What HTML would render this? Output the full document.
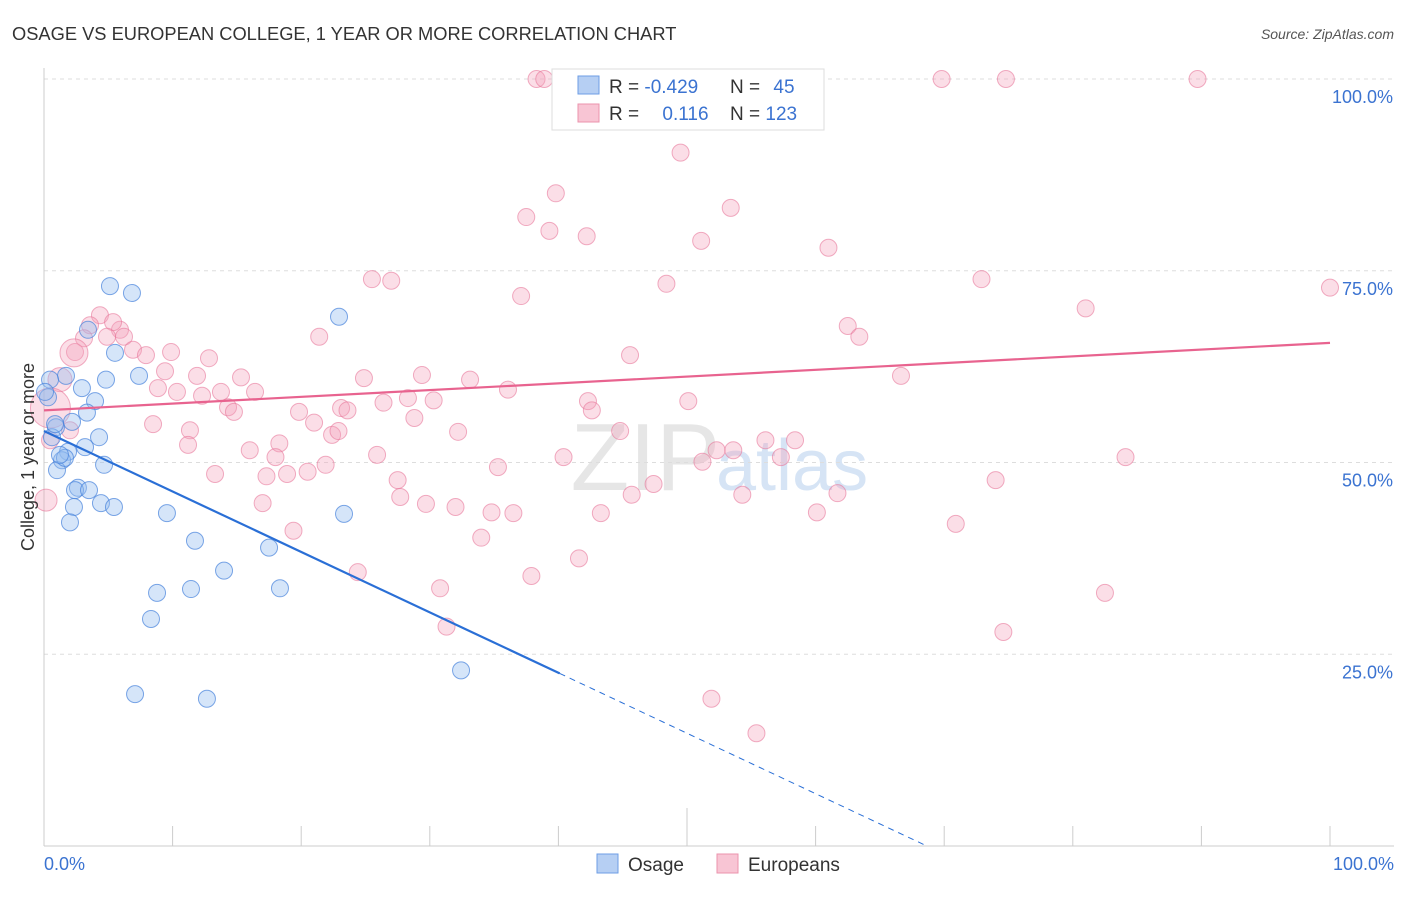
<!DOCTYPE html>
<html><head><meta charset="utf-8"><style>
body{margin:0;background:#fff;font-family:"Liberation Sans",sans-serif;}
svg text{font-family:"Liberation Sans",sans-serif;}
</style></head><body>
<svg id="c" width="1406" height="892" xmlns="http://www.w3.org/2000/svg">
<text x="12" y="40" font-size="18.3" fill="#333">OSAGE VS EUROPEAN COLLEGE, 1 YEAR OR MORE CORRELATION CHART</text>
<text x="1394" y="39" font-size="14" fill="#555" text-anchor="end" font-style="italic">Source: ZipAtlas.com</text>
<text x="720" y="490" font-size="96" fill="#e6e6e6" text-anchor="end" font-family="Liberation Serif">ZIP</text>
<text x="716" y="490" font-size="72" fill="#d6e4f5">atlas</text>
<g id="grid"></g>
<g id="marks"></g>
<g id="lines"></g>
<text transform="translate(34,457) rotate(-90)" font-size="18" fill="#333" text-anchor="middle">College, 1 year or more</text>
<text x="44" y="870" font-size="18" fill="#3b73d1">0.0%</text>
<text x="1394" y="870" font-size="18" fill="#3b73d1" text-anchor="end">100.0%</text>
<g>
<rect x="552" y="69" width="272" height="61" fill="#fff" stroke="#ddd"/>
<rect x="578" y="76" width="21" height="18" fill="#b6cff3" stroke="#6d9ee6"/>
<rect x="578" y="104" width="21" height="18" fill="#f8c5d4" stroke="#eb93ad"/>
<text x="609" y="93" font-size="19" fill="#333">R = <tspan fill="#3b73d1">-0.429</tspan></text>
<text x="730" y="93" font-size="19" fill="#333">N = <tspan fill="#3b73d1" dx="8">45</tspan></text>
<text x="609" y="120" font-size="19" fill="#333">R = <tspan fill="#3b73d1" dx="18">0.116</tspan></text>
<text x="730" y="120" font-size="19" fill="#333">N = <tspan fill="#3b73d1">123</tspan></text>
</g>
<g>
<rect x="597" y="854" width="21" height="19" fill="#b6cff3" stroke="#6d9ee6"/>
<text x="628" y="871" font-size="19" fill="#333">Osage</text>
<rect x="717" y="854" width="21" height="19" fill="#f8c5d4" stroke="#eb93ad"/>
<text x="748" y="871" font-size="19" fill="#333">Europeans</text>
</g>
</svg>
<script>
const yTicks=[25,50,75,100];
const yTickLabels=["25.0%","50.0%","75.0%","100.0%"];
const xTicks=[0,10,20,30,40,50,60,70,80,90,100];
const osageX=[5.13,6.84,22.94,3.42,5.52,1.71,4.82,7.39,2.95,3.97,0.31,3.34,2.18,0.93,4.28,0.62,3.19,1.87,1.40,4.67,1.01,2.64,2.41,3.50,2.33,4.43,5.44,2.02,9.56,11.74,23.33,17.50,14.00,11.43,8.79,18.35,8.32,7.08,12.67,32.43,0.47,0.08,0.86,1.63,1.24];
const osageY=[73.0,72.1,69.0,67.3,64.3,61.3,60.8,61.3,59.7,58.0,58.5,56.5,55.3,54.6,53.3,53.3,52.0,51.4,50.3,49.7,49.0,46.7,46.4,46.4,44.2,44.7,44.2,42.2,43.4,39.8,43.3,38.9,35.9,33.5,33.0,33.6,29.6,19.8,19.2,22.9,60.8,59.2,55.0,50.6,51.0];
const eurX=[38.3,38.9,41.4,46.1,69.8,74.8,89.7,53.1,44.2,49.5,39.8,37.5,53.4,39.3,42.2,51.1,61.0,25.5,27.0,37.1,72.9,48.4,100.0,81.0,62.5,63.4,21.4,4.35,3.58,5.91,5.37,3.11,4.90,2.41,6.22,6.92,7.93,9.88,9.41,12.83,15.32,11.90,8.86,10.34,13.76,16.41,12.29,24.88,29.39,33.13,36.08,45.57,66.64,14.31,14.77,19.83,21.0,23.1,23.6,26.4,28.3,28.8,30.3,42.3,8.48,11.35,11.2,16.0,18.3,22.4,22.9,32.2,42.6,44.8,50.1,52.3,53.6,56.1,58.4,57.3,51.2,25.9,40.4,84.1,35.3,13.3,17.3,18.0,18.9,20.5,21.9,27.5,17.0,27.7,29.7,32.0,34.8,36.5,43.3,45.7,47.4,54.3,60.1,61.7,74.0,70.9,19.4,34.0,41.6,37.9,24.4,30.8,31.3,82.5,74.6,51.9,55.4,2.02,0.47,1.24,0.16,2.33,0.5];
const eurY=[100,100,100,100,100,100,100,96.1,96.2,90.4,85.1,82.0,83.2,80.2,79.5,78.9,78.0,73.9,73.7,71.7,73.9,73.3,72.8,70.1,67.8,66.4,66.4,69.2,67.9,67.3,68.3,66.2,66.4,64.4,66.4,64.7,64.0,64.4,61.9,63.6,61.1,61.3,59.7,59.2,59.2,59.2,58.7,61.0,61.4,60.8,59.5,64.0,61.3,57.2,56.6,56.6,55.2,57.1,56.8,57.8,58.4,55.8,58.1,58.0,55.0,54.2,52.3,51.6,52.5,53.6,54.1,54.0,56.8,54.1,58.0,51.6,51.6,52.9,52.9,50.7,50.1,51.0,50.7,50.7,49.4,48.5,48.2,50.7,48.5,48.8,49.7,47.7,44.7,45.5,44.6,44.2,43.5,43.4,43.4,45.8,47.2,45.8,43.5,46.0,47.7,42.0,41.1,40.2,37.5,35.2,35.7,33.6,28.6,33.0,27.9,19.2,14.7,54.2,52.9,60.8,45.1,64.3,57.1];
const eurSize=[119,120,121,122,123];  // indices of larger (weighted) markers
const eurSizeR=[12,11,14,20,15,16];
const osageTrend=[54.1,-0.788]; // intercept, slope
const eurTrend=[56.8,0.088];
const osageSolidEnd=40.1;

const X0=44,X1=1330,Y0=846,Y100=79;
const sx=v=>X0+(X1-X0)*v/100;
const sy=v=>Y0-(Y0-Y100)*v/100;
const NS="http://www.w3.org/2000/svg";
function mk(t,a,p){const e=document.createElementNS(NS,t);for(const k in a)e.setAttribute(k,a[k]);p.appendChild(e);return e;}
const grid=document.getElementById('grid'),marks=document.getElementById('marks'),lines=document.getElementById('lines');
yTicks.forEach((t,i)=>{
  const l=mk('line',{x1:44,x2:1394,y1:sy(t),y2:sy(t),stroke:'#ddd','stroke-dasharray':'4,4'},grid);
  
  
  const tx=mk('text',{x:1393,y:sy(t)+24,'font-size':18,fill:'#3b73d1','text-anchor':'end'},grid);
  tx.textContent=yTickLabels[i];
  
  
});
const ax=mk('line',{x1:44,x2:1394,y1:846,y2:846,stroke:'#ccc'},grid);


const ay=mk('line',{x1:44,x2:44,y1:68,y2:846,stroke:'#ccc'},grid);


xTicks.forEach(t=>{
  const l=mk('line',{x1:sx(t),x2:sx(t),y1:t===50?808:826,y2:846,stroke:'#ccc'},grid);
  
  
});
eurX.forEach((x,i)=>{
  const k=eurSize.indexOf(i);
  const r=k>=0?eurSizeR[k]:8.5;
  const c=mk('circle',{cx:sx(x),cy:sy(eurY[i]),r:r,fill:'rgba(244,160,185,0.35)',stroke:'rgba(232,120,155,0.6)','stroke-width':1},marks);
  
  
});
osageX.forEach((x,i)=>{
  const c=mk('circle',{cx:sx(x),cy:sy(osageY[i]),r:8.5,fill:'rgba(150,190,240,0.4)',stroke:'rgba(70,130,220,0.7)','stroke-width':1},marks);
  
  
});
const oy=x=>osageTrend[0]+osageTrend[1]*x;
const l1=mk('line',{x1:sx(0),y1:sy(oy(0)),x2:sx(osageSolidEnd),y2:sy(oy(osageSolidEnd)),stroke:'#2a6fd6','stroke-width':2.2},lines);


const xEnd=-osageTrend[0]/osageTrend[1];
const l2=mk('line',{x1:sx(osageSolidEnd),y1:sy(oy(osageSolidEnd)),x2:sx(xEnd),y2:sy(0),stroke:'#2a6fd6','stroke-width':1,'stroke-dasharray':'6,5'},lines);


const ey=x=>eurTrend[0]+eurTrend[1]*x;
const l3=mk('line',{x1:sx(0),y1:sy(ey(0)),x2:sx(100),y2:sy(ey(100)),stroke:'#e8638f','stroke-width':2.2},lines);


</script>
</body></html>
